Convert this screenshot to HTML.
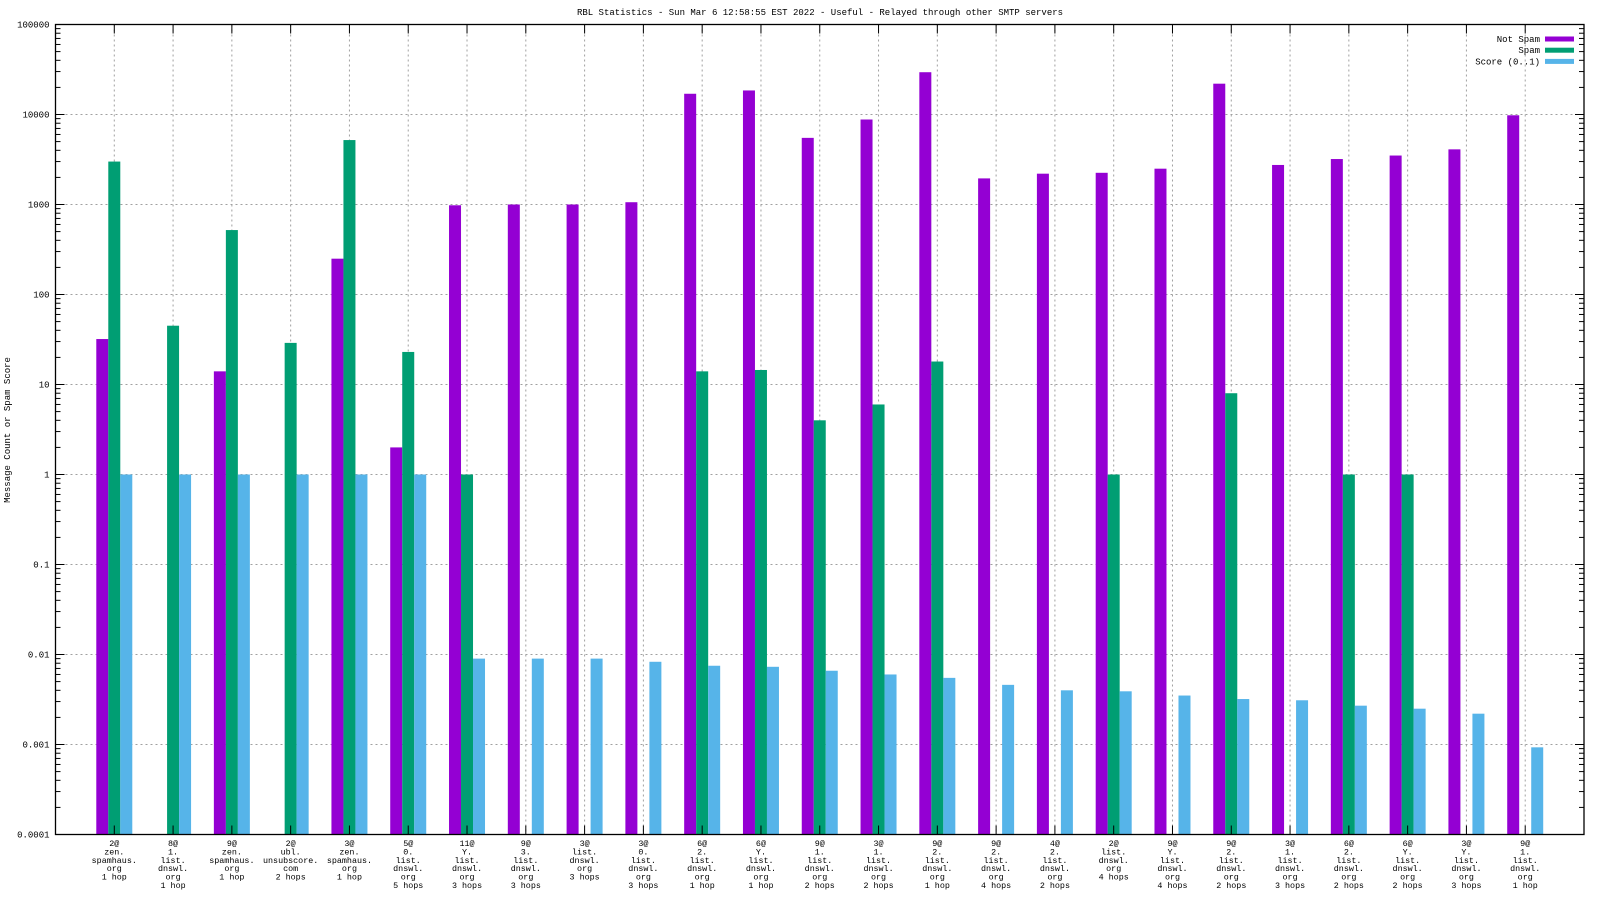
<!DOCTYPE html>
<html><head><meta charset="utf-8"><style>
html,body{margin:0;padding:0;background:#fff;}
svg{display:block;font-family:"Liberation Mono","DejaVu Sans Mono",monospace;}
</style></head><body>
<svg id="chart" width="1600" height="900" xmlns="http://www.w3.org/2000/svg">
<text x="820" y="15" font-size="9" text-anchor="middle">RBL Statistics - Sun Mar  6 12:58:55 EST 2022 - Useful - Relayed through other SMTP servers</text>
<text transform="translate(10,430) rotate(-90)" font-size="9" text-anchor="middle">Message Count or Spam Score</text>
<g id="grid"></g><g id="bars"></g><g id="axes"></g><g id="legend"></g>
</svg>
<script>
const categories = [
 ["2@","zen.","spamhaus.","org","1 hop"],
 ["8@","1.","list.","dnswl.","org","1 hop"],
 ["9@","zen.","spamhaus.","org","1 hop"],
 ["2@","ubl.","unsubscore.","com","2 hops"],
 ["3@","zen.","spamhaus.","org","1 hop"],
 ["5@","0.","list.","dnswl.","org","5 hops"],
 ["11@","Y.","list.","dnswl.","org","3 hops"],
 ["9@","3.","list.","dnswl.","org","3 hops"],
 ["3@","list.","dnswl.","org","3 hops"],
 ["3@","0.","list.","dnswl.","org","3 hops"],
 ["6@","2.","list.","dnswl.","org","1 hop"],
 ["6@","Y.","list.","dnswl.","org","1 hop"],
 ["9@","1.","list.","dnswl.","org","2 hops"],
 ["3@","1.","list.","dnswl.","org","2 hops"],
 ["9@","2.","list.","dnswl.","org","1 hop"],
 ["9@","2.","list.","dnswl.","org","4 hops"],
 ["4@","2.","list.","dnswl.","org","2 hops"],
 ["2@","list.","dnswl.","org","4 hops"],
 ["9@","Y.","list.","dnswl.","org","4 hops"],
 ["9@","2.","list.","dnswl.","org","2 hops"],
 ["3@","1.","list.","dnswl.","org","3 hops"],
 ["6@","2.","list.","dnswl.","org","2 hops"],
 ["6@","Y.","list.","dnswl.","org","2 hops"],
 ["3@","Y.","list.","dnswl.","org","3 hops"],
 ["9@","1.","list.","dnswl.","org","1 hop"]
];
const notSpam = [32,null,14,null,250,2,980,1000,1000,1060,17000,18500,5500,8800,29500,1950,2200,2250,2500,22000,2750,3200,3500,4100,9800];
const spam = [3000,45,520,29,5200,23,1,null,null,null,14,14.5,4,6,18,null,null,1,null,8,null,1,1,null,null];
const score = [1,1,1,1,1,1,0.009,0.009,0.009,0.0083,0.0075,0.0073,0.0066,0.006,0.0055,0.0046,0.004,0.0039,0.0035,0.0032,0.0031,0.0027,0.0025,0.0022,0.00093];
const yTicks = ["0.0001","0.001","0.01","0.1","1","10","100","1000","10000","100000"];

const NS="http://www.w3.org/2000/svg";
const L=55.5,R=1584,T=24.5,B=834.5;
const X=i=>L+(i+1)*(R-L)/26;
const Y=v=>B-(Math.log10(v)+4)*(B-T)/9;
function mk(tag,attrs,parent,txt){const e=document.createElementNS(NS,tag);for(const k in attrs)e.setAttribute(k,attrs[k]);if(txt!=null)e.textContent=txt;parent.appendChild(e);return e;}
const grid=document.getElementById('grid'),bars=document.getElementById('bars'),axes=document.getElementById('axes'),leg=document.getElementById('legend');
yTicks.forEach((t,k)=>{const y=Y(parseFloat(t));if(k>0&&k<yTicks.length-1){const g=mk('line',{x1:L,x2:R,y1:y,y2:y,stroke:'#a0a0a0','stroke-dasharray':'2,3'},grid);}
 const lab=mk('text',{x:L-6,y:y+3,'font-size':'9','text-anchor':'end'},axes,t);
 mk('line',{x1:L,x2:L+9,y1:y,y2:y,stroke:'#000'},axes);mk('line',{x1:R,x2:R-9,y1:y,y2:y,stroke:'#000'},axes);
 if(k<yTicks.length-1){for(let m=2;m<10;m++){const ym=Y(parseFloat(t)*m);mk('line',{x1:L,x2:L+5,y1:ym,y2:ym,stroke:'#000'},axes);mk('line',{x1:R,x2:R-5,y1:ym,y2:ym,stroke:'#000'},axes);}}
});
const cols=['#9400d3','#009e73','#56b4e9'];
categories.forEach((c,i)=>{const x=X(i);
 const g=mk('line',{x1:x,x2:x,y1:T,y2:B,stroke:'#a0a0a0','stroke-dasharray':'2,3'},grid);
 mk('line',{x1:x,x2:x,y1:B,y2:B-9,stroke:'#000'},axes);mk('line',{x1:x,x2:x,y1:T,y2:T+9,stroke:'#000'},axes);
 [notSpam[i],spam[i],score[i]].forEach((v,s)=>{if(v==null)return;const y=Y(v);const r=mk('rect',{x:x-18+s*12,y:y,width:12,height:B-y,fill:cols[s]},bars);
  });
 const t=mk('text',{'font-size':'8.4','text-anchor':'middle'},axes);
 c.forEach((ln,j)=>{mk('tspan',{x:x,y:846+j*8.4},t,ln);});
});
const fr=mk('rect',{x:L,y:T,width:R-L,height:B-T,fill:'none',stroke:'#000','stroke-width':'1.3'},axes);
['Not Spam','Spam','Score (0..1)'].forEach((n,k)=>{const y=39+k*11.2;
 const t=mk('text',{x:1540,y:y+3,'font-size':'9','text-anchor':'end'},leg,n);
 const r=mk('rect',{x:1545,y:y-2.5,width:29,height:5,fill:cols[k]},leg);});
</script>
</body></html>
